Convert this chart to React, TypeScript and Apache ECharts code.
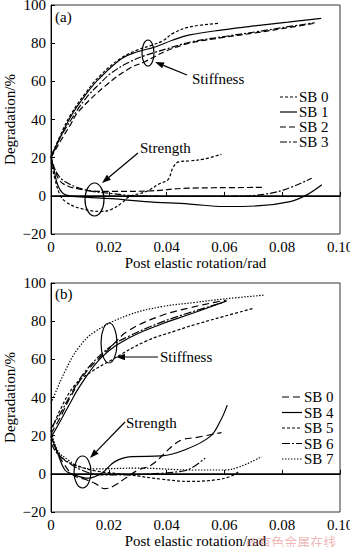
import React, { useEffect, useRef } from 'react';
import * as echarts from 'echarts';

type P = [number, number];

// ---------- Panel (a) : stiffness degradation ----------
const aSB0Stiff: P[] = [[0, 20], [0.003, 31], [0.007, 43], [0.012, 54], [0.017, 63], [0.024, 72], [0.03, 76.5], [0.035, 79], [0.039, 81.5], [0.042, 85], [0.048, 88.5], [0.0585, 90.4]];
const aSB1Stiff: P[] = [[0, 20], [0.003, 30], [0.007, 42], [0.012, 53], [0.0164, 61], [0.0245, 72], [0.03, 75.5], [0.036, 78], [0.042, 81.5], [0.048, 84.3], [0.0595, 87], [0.0712, 89.2], [0.082, 91], [0.0935, 93]];
const aSB2Stiff: P[] = [[0, 20], [0.003, 28], [0.007, 38], [0.0094, 44], [0.0187, 57.5], [0.0268, 66.5], [0.0325, 70.3], [0.04, 76], [0.048, 80], [0.0596, 83], [0.0712, 85.5], [0.0827, 88.3], [0.0907, 90.3]];
const aSB3Stiff: P[] = [[0, 21], [0.003, 30], [0.007, 40], [0.012, 51], [0.017, 59], [0.021, 64.5], [0.027, 70], [0.0325, 73.5], [0.04, 77], [0.048, 80.5], [0.06, 83.5], [0.0712, 86], [0.0827, 88.8], [0.0913, 90.7]];

// ---------- Panel (a) : strength degradation ----------
const aSB0Str: P[] = [[0, 18], [0.0015, 8], [0.003, 1], [0.005, -3], [0.01, -6.5], [0.0175, -8.2], [0.021, -7], [0.0245, -3.7], [0.027, -0.5], [0.033, 2.3], [0.0377, 6.5], [0.0405, 8.5], [0.0423, 15], [0.0445, 18], [0.048, 18.3], [0.053, 19.3], [0.059, 21.8]];
const aSB1Str: P[] = [[0, 20], [0.001, 14], [0.0025, 5], [0.005, 0.5], [0.01, -0.5], [0.021, -1.5], [0.0325, -3], [0.048, -4.3], [0.06, -5.6], [0.0712, -5.3], [0.0827, -3], [0.0885, 0.5], [0.0937, 5.8]];
const aSB2Str: P[] = [[0, 21], [0.0015, 13], [0.003, 8], [0.006, 5], [0.01, 3.5], [0.015, 2.5], [0.021, 2.3], [0.033, 2.5], [0.0475, 4], [0.0735, 4.4]];
const aSB3Str: P[] = [[0, 19], [0.002, 12], [0.0048, 7.5], [0.0118, 3.2], [0.021, 1.2], [0.03, 0], [0.05, -0.3], [0.065, -0.2], [0.0712, 0.3], [0.0803, 3], [0.0902, 9.2]];

// ---------- Panel (b) : stiffness degradation ----------
const bSB0Stiff: P[] = [[0, 21], [0.003, 29], [0.007, 41], [0.012, 53], [0.0204, 66], [0.0268, 75], [0.0383, 83], [0.048, 87], [0.057, 90], [0.0605, 91]];
const bSB4Stiff: P[] = [[0, 19], [0.003, 27], [0.0066, 37], [0.01, 46], [0.0175, 61], [0.0268, 71], [0.0383, 78.5], [0.048, 83.6], [0.0608, 90.6]];
const bSB5Stiff: P[] = [[0, 22], [0.003, 33], [0.0083, 46.6], [0.014, 53.5], [0.021, 59.7], [0.0325, 69.3], [0.044, 75.4], [0.0498, 78.2], [0.0596, 82.4], [0.07, 86.7]];
const bSB6Stiff: P[] = [[0, 24], [0.003, 31], [0.007, 42], [0.012, 54], [0.0204, 66.5], [0.0268, 72], [0.0383, 79.5], [0.048, 84.5], [0.06, 90]];
const bSB7Stiff: P[] = [[0, 37], [0.0014, 42], [0.0048, 53.6], [0.0094, 65.8], [0.0152, 74.5], [0.0268, 83.2], [0.0383, 87.6], [0.0498, 89.8], [0.0596, 91.6], [0.0735, 93.6]];

// ---------- Panel (b) : strength degradation ----------
const bSB0Str: P[] = [[0, 20], [0.002, 12], [0.005, 4], [0.008, -1], [0.012, -3], [0.0152, -5], [0.0187, -7.8], [0.0221, -6], [0.026, -2], [0.0302, 2], [0.0348, 4.7], [0.0418, 14.3], [0.0452, 17.8], [0.05, 19], [0.059, 21.6]];
const bSB4Str: P[] = [[0, 20], [0.0025, 10], [0.0048, 2], [0.0072, 0], [0.0129, -2.3], [0.0175, 0.3], [0.0221, 6.4], [0.0279, 9], [0.0383, 9.4], [0.0464, 12.6], [0.055, 19.5], [0.0585, 27.4], [0.061, 36]];
const bSB5Str: P[] = [[0, 18], [0.0025, 11], [0.0048, 7], [0.0083, 4.7], [0.0152, 1.6], [0.0268, -0.5], [0.0383, -2.8], [0.048, -4], [0.0573, -3.1], [0.062, -1.4], [0.0648, 0.9]];
const bSB6Str: P[] = [[0, 16], [0.002, 11], [0.0048, 7.3], [0.0106, 2], [0.0175, -0.5], [0.026, -0.5], [0.0383, 0.3], [0.0446, 1.2], [0.048, 2.5], [0.0533, 8.2]];
const bSB7Str: P[] = [[0, 23], [0.0025, 11.7], [0.006, 7.3], [0.0094, 3.8], [0.0152, 2.6], [0.03, 3], [0.0498, 2], [0.0596, 2], [0.0654, 3.8], [0.0729, 9]];

const legendA = ['SB 0', 'SB 1', 'SB 2', 'SB 3'];
const legendB = ['SB 0', 'SB 4', 'SB 5', 'SB 6', 'SB 7'];
const B_PREFIX = '(b) ';

const FONT = "'Liberation Serif', 'Times New Roman', serif";

const DASH: Record<string, any> = {
  solid: 'solid',
  short: [3, 2],
  long: [6, 3],
  longer: [7, 4],
  dashdot: [7, 2, 2, 2],
  dashdot2: [8, 2, 2, 2],
  dot: [1.4, 1.6],
};

const styleA: Record<string, any> = { 'SB 0': DASH.short, 'SB 1': DASH.solid, 'SB 2': DASH.long, 'SB 3': DASH.dashdot };
const styleB: Record<string, any> = { 'SB 0': DASH.longer, 'SB 4': DASH.solid, 'SB 5': DASH.short, 'SB 6': DASH.dashdot2, 'SB 7': DASH.dot };

function mk(name: string, data: P[], dash: any, g: number, extra: any = {}) {
  return {
    type: 'line',
    name,
    data,
    xAxisIndex: g,
    yAxisIndex: g,
    symbol: 'none',
    smooth: 0.4,
    silent: true,
    z: 3,
    lineStyle: { color: '#000', width: 1.2, type: dash },
    itemStyle: { color: '#000' },
    ...extra,
  };
}

const zeroLine = {
  markLine: {
    silent: true,
    symbol: ['none', 'none'],
    label: { show: false },
    lineStyle: { color: '#000', width: 1.7, type: 'solid' },
    data: [{ yAxis: 0 }],
  },
};

function arrow(tx: number, ty: number, hx: number, hy: number) {
  const dx = hx - tx;
  const dy = hy - ty;
  const len = Math.sqrt(dx * dx + dy * dy);
  const ux = dx / len;
  const uy = dy / len;
  const L = 9;
  const W = 3.2;
  const bx = hx - ux * L;
  const by = hy - uy * L;
  return [
    { type: 'line', shape: { x1: tx, y1: ty, x2: bx, y2: by }, style: { stroke: '#000', lineWidth: 1.2 } },
    {
      type: 'polygon',
      shape: { points: [[hx, hy], [bx - uy * W, by + ux * W], [bx + uy * W, by - ux * W]] },
      style: { fill: '#000' },
    },
  ];
}

function ell(cx: number, cy: number, rx: number, ry: number) {
  return { type: 'ellipse', shape: { cx, cy, rx, ry }, style: { fill: 'none', stroke: '#000', lineWidth: 1.2 } };
}

function txt(x: number, y: number, text: string, extra: any = {}) {
  return {
    type: 'text',
    x,
    y,
    style: { text, font: `15px ${FONT}`, fill: '#000', verticalAlign: 'middle', ...extra },
  };
}

function legendBlock(names: string[], styles: Record<string, any>, x0: number, x1: number, y0: number, step: number) {
  const out: any[] = [];
  names.forEach((n, i) => {
    const y = y0 + i * step;
    out.push({
      type: 'line',
      shape: { x1: x0, y1: y, x2: x1, y2: y },
      style: { stroke: '#000', lineWidth: 1.2, lineDash: styles[n] === 'solid' ? null : styles[n] },
    });
    out.push(txt(x1 + 2, y, n));
  });
  return out;
}

export default function App() {
  const ref = useRef<HTMLDivElement>(null);
  useEffect(() => {
    document.body.style.margin = '0';
    const chart = echarts.init(ref.current!, null, { renderer: 'svg' });

    const axisLabelX = {
      fontFamily: FONT,
      fontSize: 15,
      color: '#000',
      margin: 5,
      formatter: (v: number) => (v === 0 ? '0' : v.toFixed(2)),
    };
    const axisLabelY = {
      fontFamily: FONT,
      fontSize: 15,
      color: '#000',
      margin: 5,
      formatter: (v: number) => String(v).replace('-', '\u2212'),
    };
    const mkX = (g: number) => ({
      type: 'value',
      gridIndex: g,
      min: 0,
      max: 0.1,
      interval: 0.02,
      name: 'Post elastic rotation/rad',
      nameLocation: 'middle',
      nameGap: 21,
      nameMoveOverlap: false,
      nameTextStyle: { fontFamily: FONT, fontSize: 15, color: '#000' },
      axisLine: { show: true, lineStyle: { color: '#000', width: 1 } },
      axisTick: { show: true, inside: true, length: 4, lineStyle: { color: '#000' } },
      splitLine: { show: false },
      axisLabel: axisLabelX,
    });
    const mkY = (g: number) => ({
      type: 'value',
      gridIndex: g,
      min: -20,
      max: 100,
      interval: 20,
      name: 'Degradation/%',
      nameLocation: 'middle',
      nameGap: 34,
      nameMoveOverlap: false,
      nameRotate: 90,
      nameTextStyle: { fontFamily: FONT, fontSize: 15, color: '#000' },
      axisLine: { show: true, lineStyle: { color: '#000', width: 1 } },
      axisTick: { show: true, inside: true, length: 4, lineStyle: { color: '#000' } },
      splitLine: { show: false },
      axisLabel: axisLabelY,
    });

    const B = (n: string) => B_PREFIX + n;

    const series: any[] = [
      mk('SB 0', aSB0Stiff, styleA['SB 0'], 0, zeroLine),
      mk('SB 1', aSB1Stiff, styleA['SB 1'], 0),
      mk('SB 2', aSB2Stiff, styleA['SB 2'], 0),
      mk('SB 3', aSB3Stiff, styleA['SB 3'], 0),
      mk('SB 0', aSB0Str, styleA['SB 0'], 0),
      mk('SB 1', aSB1Str, styleA['SB 1'], 0),
      mk('SB 2', aSB2Str, styleA['SB 2'], 0),
      mk('SB 3', aSB3Str, styleA['SB 3'], 0),

      mk(B('SB 0'), bSB0Stiff, styleB['SB 0'], 1, zeroLine),
      mk(B('SB 4'), bSB4Stiff, styleB['SB 4'], 1),
      mk(B('SB 5'), bSB5Stiff, styleB['SB 5'], 1),
      mk(B('SB 6'), bSB6Stiff, styleB['SB 6'], 1),
      mk(B('SB 7'), bSB7Stiff, styleB['SB 7'], 1),
      mk(B('SB 0'), bSB0Str, styleB['SB 0'], 1),
      mk(B('SB 4'), bSB4Str, styleB['SB 4'], 1),
      mk(B('SB 5'), bSB5Str, styleB['SB 5'], 1),
      mk(B('SB 6'), bSB6Str, styleB['SB 6'], 1),
      mk(B('SB 7'), bSB7Str, styleB['SB 7'], 1),
    ];

    const graphic: any[] = [
      txt(55, 17, '(a)'),
      txt(55, 294, '(b)'),
      ell(148, 53, 6, 13),
      ...arrow(187, 75, 155, 62),
      txt(192, 79, 'Stiffness'),
      ell(94.5, 199.5, 9.5, 16.5),
      ...arrow(138, 153, 102, 183),
      txt(140, 148, 'Strength'),
      ell(109, 343, 8, 20),
      ...arrow(158, 357, 116, 357),
      txt(160, 357, 'Stiffness'),
      ell(82.5, 472, 8.5, 16),
      ...arrow(125, 422, 90, 458),
      txt(126, 423, 'Strength'),
      ...legendBlock(legendA, styleA, 280, 297, 97, 15),
      ...legendBlock(legendB, styleB, 282, 302, 397, 15.5),
      {
        type: 'text',
        x: 246,
        y: 541,
        z: 10,
        style: {
          text: '@有色金属在线',
          font: "13px 'Noto Sans CJK SC', sans-serif",
          fill: 'rgba(225, 120, 120, 0.55)',
          verticalAlign: 'middle',
        },
      },
    ];

    chart.setOption({
      animation: false,
      backgroundColor: '#fff',
      textStyle: { fontFamily: FONT },
      grid: [
        { left: 51, top: 5, width: 289, height: 229, show: true, borderColor: '#333', borderWidth: 1, backgroundColor: 'transparent', containLabel: false, outerBoundsMode: 'none' },
        { left: 51, top: 283, width: 289, height: 229, show: true, borderColor: '#333', borderWidth: 1, backgroundColor: 'transparent', containLabel: false, outerBoundsMode: 'none' },
      ],
      xAxis: [mkX(0), mkX(1)],
      yAxis: [mkY(0), mkY(1)],
      graphic,
      series,
    });
    return () => chart.dispose();
  }, []);
  return <div ref={ref} style={{ width: 350, height: 547 }} />;
}
